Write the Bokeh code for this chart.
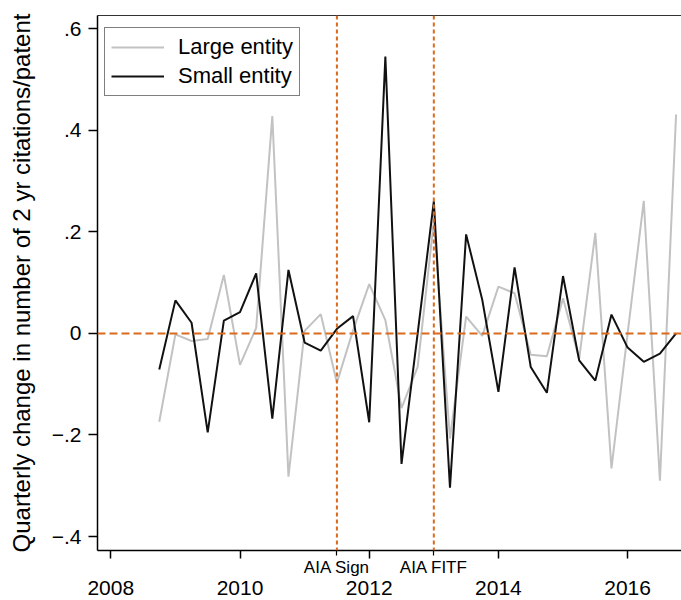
from bokeh.plotting import figure
from bokeh.models import (Range1d, FixedTicker, Span, LinearAxis,
                          Legend, LegendItem, ColumnDataSource)
from bokeh.embed import file_html
from bokeh.resources import INLINE

# ---------------- data ----------------
quarters = [2008.75, 2009.00, 2009.25, 2009.50, 2009.75, 2010.00, 2010.25,
            2010.50, 2010.75, 2011.00, 2011.25, 2011.50, 2011.75, 2012.00,
            2012.25, 2012.50, 2012.75, 2013.00, 2013.25, 2013.50, 2013.75,
            2014.00, 2014.25, 2014.50, 2014.75, 2015.00, 2015.25, 2015.50,
            2015.75, 2016.00, 2016.25, 2016.50, 2016.75]

large_entity = [-0.174, -0.002, -0.015, -0.011, 0.115, -0.062, 0.011,
                0.428, -0.282, 0.005, 0.038, -0.097, 0.006, 0.097,
                0.026, -0.147, -0.066, 0.220, -0.207, 0.033, -0.005,
                0.092, 0.079, -0.042, -0.045, 0.069, -0.050, 0.198,
                -0.266, 0.000, 0.261, -0.290, 0.431]

small_entity = [-0.071, 0.065, 0.021, -0.195, 0.025, 0.042, 0.118,
                -0.168, 0.125, -0.018, -0.034, 0.009, 0.034, -0.175,
                0.545, -0.257, 0.000, 0.260, -0.304, 0.195, 0.066,
                -0.115, 0.130, -0.066, -0.117, 0.113, -0.053, -0.093,
                0.037, -0.028, -0.056, -0.040, 0.000]

series_names = ["Large entity", "Small entity"]
x_ticks = [2008, 2010, 2012, 2014, 2016]
y_ticks = [-0.4, -0.2, 0, 0.2, 0.4, 0.6]
y_tick_labels = ["\u2212.4", "\u2212.2", "0", ".2", ".4", ".6"]
event_dates = [2011.5, 2013.0]
event_labels = ["AIA Sign", "AIA FITF"]
y_title = "Quarterly change in number of 2 yr citations/patent"

# ---------------- style ----------------
FONT = "Liberation Sans"
ORANGE = "#DA6A1E"
GRAY = "#C2C2C2"
BLACK = "#111111"

W, H = 681, 600
B_LEFT, B_TOP, B_BOTTOM = 97, 15, 50
Y0, Y1 = -0.4275, 0.626

p = figure(width=W, height=H, output_backend="svg", toolbar_location=None,
           x_range=Range1d(2007.794, 2016.834), y_range=Range1d(Y0, Y1),
           min_border_left=B_LEFT, min_border_right=0,
           min_border_top=B_TOP, min_border_bottom=B_BOTTOM)
p.outline_line_color = None
p.grid.visible = False
p.background_fill_color = "white"
p.border_fill_color = "white"

src = ColumnDataSource(dict(x=quarters, large=large_entity, small=small_entity))
r_large = p.line("x", "large", source=src, line_color=GRAY, line_width=2)
r_small = p.line("x", "small", source=src, line_color=BLACK, line_width=2)

# reference lines
p.add_layout(Span(location=0, dimension="width", line_color=ORANGE,
                  line_width=2, line_dash="8 4"))
for d in event_dates:
    p.add_layout(Span(location=d, dimension="height", line_color=ORANGE,
                      line_width=2, line_dash="4 3"))

# x axis nearest the frame: event labels (major) + year ticks (minor)
xa = p.xaxis[0]
xa.ticker = FixedTicker(ticks=event_dates, minor_ticks=x_ticks)
xa.major_label_overrides = {d: t for d, t in zip(event_dates, event_labels)}
xa.major_tick_out = 5
xa.major_tick_in = 0
xa.minor_tick_out = 8
xa.minor_tick_in = 0
xa.axis_line_width = 1.5
xa.major_tick_line_width = 1.2
xa.minor_tick_line_width = 1.5
xa.major_label_text_font = FONT
xa.major_label_text_font_size = "17px"
xa.major_label_text_color = "black"
xa.major_label_standoff = -1

# second x axis below: year labels only
xb = LinearAxis(ticker=FixedTicker(ticks=x_ticks),
                axis_line_color=None, major_tick_line_color=None,
                minor_tick_line_color=None, major_tick_out=0, major_tick_in=0,
                minor_tick_out=0, minor_tick_in=0,
                major_label_text_font=FONT, major_label_text_font_size="21px",
                major_label_text_color="black", major_label_standoff=1)
p.add_layout(xb, "below")

# y axis
ya = p.yaxis[0]
ya.ticker = FixedTicker(ticks=y_ticks)
ya.major_label_overrides = {t: l for t, l in zip(y_ticks, y_tick_labels)}
ya.major_tick_out = 9
ya.major_tick_in = 0
ya.minor_tick_out = 0
ya.minor_tick_in = 0
ya.axis_line_width = 1.5
ya.major_tick_line_width = 1.5
ya.major_label_text_font = FONT
ya.major_label_text_font_size = "21px"
ya.major_label_text_color = "black"
ya.major_label_standoff = 7
ya.axis_label = y_title
ya.axis_label_text_font = FONT
ya.axis_label_text_font_size = "24px"
ya.axis_label_text_font_style = "normal"
ya.axis_label_text_color = "black"
ya.axis_label_standoff = 14

# top frame line
top = LinearAxis(ticker=FixedTicker(ticks=[]), major_tick_out=0, major_tick_in=0,
                 minor_tick_out=0, minor_tick_in=0, axis_line_color="#333333",
                 axis_line_width=1.2)
p.add_layout(top, "above")

# legend, inset from the frame's top-left corner
PAD, SPACING, ROW = 6, 3, 26
legend_h_rendered = 73          # measured height of the drawn legend box
frame_h = H - B_TOP - B_BOTTOM
legend = Legend(items=[LegendItem(label=series_names[0], renderers=[r_large]),
                       LegendItem(label=series_names[1], renderers=[r_small])],
                location=(7, frame_h - legend_h_rendered - 8), padding=PAD,
                spacing=SPACING, glyph_width=53, glyph_height=ROW,
                label_height=ROW, label_standoff=14,
                border_line_color="black", border_line_width=1.2,
                background_fill_alpha=1.0,
                label_text_font=FONT, label_text_font_size="22px",
                label_text_color="black")
p.add_layout(legend)

open("out.html", "w").write(file_html(p, INLINE))
